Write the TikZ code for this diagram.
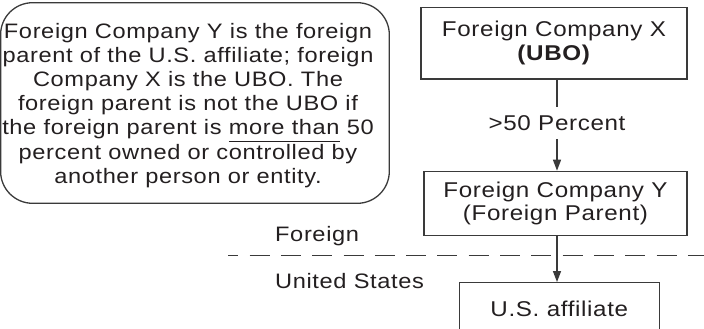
\documentclass[tikz,border=0pt]{standalone}
\usepackage{fontspec}
\setmainfont{Liberation Sans}[FakeStretch=1.13,LetterSpace=3]
\usetikzlibrary{arrows.meta}
\definecolor{inkgray}{HTML}{231F20}
\definecolor{linegray}{HTML}{3A3A3A}
\newsavebox{\markbox}
\newcommand{\undermark}[1]{\sbox{\markbox}{#1}\rlap{\rule[-7.5pt]{\wd\markbox}{1.4pt}}\usebox{\markbox}}
\tikzset{
    company/.style={draw=linegray, line width=1.3pt, inner sep=0pt, align=center, text=inkgray},
    link/.style={draw=linegray, line width=1.3pt},
    flow/.style={link, -{Triangle[length=11pt,width=8pt]}},
    border/.style={draw=linegray, line width=1.4pt, dash pattern=on 20pt off 11.3pt, dash phase=10pt},
    sidelabel/.style={text=inkgray, inner sep=0pt, anchor=base west}
}
\begin{document}
\begin{tikzpicture}[x=1pt, y=-1pt, font=\fontsize{20.9}{24.1}\selectfont]
    \useasboundingbox (0,0) rectangle (704,329);

    % Note
    \draw[link, rounded corners=32pt] (0.6,2.7) rectangle (389.3,203.3);
    \node[text=inkgray, align=center, inner sep=0pt] (notetext) at (188,105.4)
        {Foreign Company Y is the foreign\\ parent of the U.S. affiliate; foreign\\ Company X is the UBO. The\\ foreign parent is not the UBO if\\ the foreign parent is \undermark{more than} 50\\ percent owned or controlled by\\ another person or entity.};

    % Border
    \coordinate (borderL) at (228.3,255.5);
    \coordinate (borderR) at (704,255.5);
    \draw[border] (borderL) -- (borderR);
    \node[sidelabel] (foreign) at (275,241.7) {Foreign};
    \node[sidelabel] (domestic) at (275,288.3) {United States};

    % Chain of ownership
    \node[company, minimum width=266pt, minimum height=71.7pt, font=\fontsize{21.4}{24.4}\selectfont] (ubo) at (554,43.2) {Foreign Company X\\\textbf{(UBO)}};
    \node[text=inkgray, inner xsep=0pt, inner ysep=8pt, font=\fontsize{21.4}{24}\selectfont] (share) at (557,123) {>50 Percent};
    \node[company, minimum width=263pt, minimum height=64.3pt, font=\fontsize{21.4}{23.3}\selectfont] (parent) at (555.5,203.5) {Foreign Company Y\\(Foreign Parent)};
    \node[company, minimum width=200pt, minimum height=52.6pt, font=\fontsize{21.4}{24}\selectfont] (affiliate) at (559.3,309) {U.S. affiliate};

    \draw[link] (ubo.south -| share.north) -- (share.north);
    \draw[flow] (share.south) -- (share.south |- parent.north);
    \draw[flow] (parent.south -| share) -- (share |- affiliate.north);
\end{tikzpicture}
\end{document}
